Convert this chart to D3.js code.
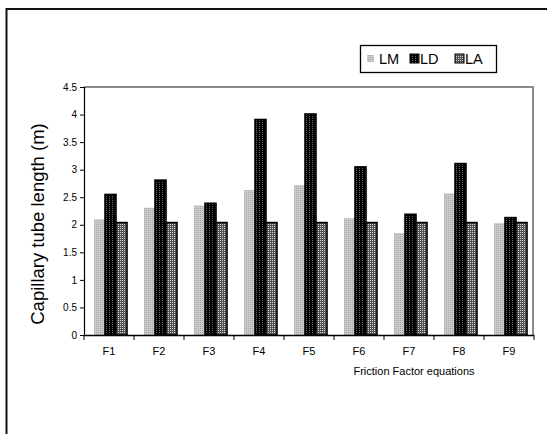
<!DOCTYPE html>
<html>
<head>
<meta charset="utf-8">
<script src="https://cdn.jsdelivr.net/npm/d3@7"></script>
<style>
  html, body { margin: 0; padding: 0; background: #fff; }
  svg { display: block; font-family: "Liberation Sans", Arial, sans-serif; }
</style>
</head>
<body>
<svg id="chart" width="547" height="434"></svg>
<script>
// Friction factor equations on the x axis
const categories = ["F1", "F2", "F3", "F4", "F5", "F6", "F7", "F8", "F9"];
const seriesNames = ["LM", "LD", "LA"];
// Capillary tube length (m) for each equation
const valuesLM = [2.10, 2.31, 2.35, 2.63, 2.72, 2.12, 1.85, 2.57, 2.03];
const valuesLD = [2.55, 2.81, 2.39, 3.91, 4.01, 3.05, 2.19, 3.11, 2.13];
const valuesLA = [2.04, 2.04, 2.04, 2.04, 2.04, 2.04, 2.04, 2.04, 2.04];
const yTicks = [0, 0.5, 1, 1.5, 2, 2.5, 3, 3.5, 4, 4.5];

const seriesValues = { LM: valuesLM, LD: valuesLD, LA: valuesLA };

const svg = d3.select("#chart");
const margin = { left: 84, top: 87, right: 533, bottom: 335 };

// Fill patterns for the three series
const defs = svg.append("defs");
function pattern(id, w, h, bg, dots, dotColor) {
  const p = defs.append("pattern").attr("id", id)
    .attr("patternUnits", "userSpaceOnUse").attr("width", w).attr("height", h);
  p.append("rect").attr("width", w).attr("height", h).attr("fill", bg);
  dots.forEach(([dx, dy]) => p.append("rect").attr("x", dx).attr("y", dy)
    .attr("width", 1).attr("height", 1).attr("fill", dotColor));
}
pattern("patLM", 2, 2, "#cacaca", [[0, 0]], "#a9a9a9");
pattern("patLD", 3, 2, "#000000", [[1, 0]], "#6a6a6a");
pattern("patLA", 2, 2, "#505050", [[0, 0]], "#d8d8d8");
const fills = { LM: "url(#patLM)", LD: "url(#patLD)", LA: "url(#patLA)" };
const strokes = { LM: "none", LD: "#000", LA: "#000" };

// Outer frame (top and left edges visible)
svg.append("path")
  .attr("d", "M6.5,434 L6.5,9 L547,9")
  .attr("fill", "none").attr("stroke", "#111").attr("stroke-width", 2);

const x0 = d3.scaleBand().domain(categories)
  .range([margin.left, margin.right + 1]).paddingInner(0).paddingOuter(0);
const bw = x0.bandwidth();
const x1 = d3.scaleBand().domain(seriesNames)
  .range([bw * 0.2, bw * 0.86]).paddingInner(0);
const y = d3.scaleLinear().domain([0, 4.5]).range([margin.bottom, margin.top]);

// Plot frame: grey top and right edges
svg.append("path")
  .attr("d", `M${margin.left},${margin.top} L${margin.right},${margin.top} L${margin.right},${margin.bottom}`)
  .attr("fill", "none").attr("stroke", "#8a8a8a").attr("stroke-width", 2);

// Bars
const groups = svg.append("g").selectAll("g")
  .data(categories).join("g")
  .attr("transform", d => `translate(${x0(d)},0)`);

seriesNames.forEach(s => {
  groups.append("rect")
    .attr("x", x1(s))
    .attr("y", (d, i) => y(seriesValues[s][i]))
    .attr("width", x1.bandwidth())
    .attr("height", (d, i) => y(0) - y(seriesValues[s][i]))
    .attr("fill", fills[s])
    .attr("stroke", strokes[s])
    .attr("stroke-width", 1.6);
});

// Y axis
const yAxis = d3.axisLeft(y).tickValues(yTicks).tickSize(4).tickPadding(3)
  .tickFormat(d => String(d));
const gy = svg.append("g").attr("transform", `translate(${margin.left},0)`).call(yAxis);
gy.select(".domain").attr("stroke", "#000").attr("stroke-width", 1.2);
gy.selectAll(".tick line").attr("stroke", "#000");
gy.selectAll(".tick text").attr("font-size", 10).attr("fill", "#000")
  .attr("font-family", "Liberation Sans, Arial, sans-serif");

// X axis: labels at category centres, ticks at category boundaries
const xAxis = d3.axisBottom(x0).tickSize(0).tickPadding(12);
const gx = svg.append("g").attr("transform", `translate(0,${margin.bottom})`).call(xAxis);
gx.select(".domain").attr("stroke", "#000").attr("stroke-width", 1.5)
  .attr("d", `M${margin.left},0.5H${margin.right + 1}`);
gx.selectAll(".tick text").attr("font-size", 11).attr("fill", "#000")
  .attr("font-family", "Liberation Sans, Arial, sans-serif");
const boundaries = categories.map(c => x0(c)).concat([x0(categories[categories.length - 1]) + bw]);
gx.append("g").selectAll("line").data(boundaries).join("line")
  .attr("x1", d => d).attr("x2", d => d)
  .attr("y1", 0).attr("y2", 5)
  .attr("stroke", "#000").attr("stroke-width", 1);

// Axis titles
svg.append("text")
  .attr("transform", "translate(44,224) rotate(-90)")
  .attr("text-anchor", "middle")
  .attr("font-size", 18.5)
  .attr("fill", "#000")
  .text("Capillary tube length (m)");

svg.append("text")
  .attr("x", 414).attr("y", 375)
  .attr("text-anchor", "middle")
  .attr("font-size", 11)
  .attr("fill", "#000")
  .text("Friction Factor equations");

// Legend
const legend = svg.append("g");
legend.append("rect")
  .attr("x", 360.5).attr("y", 45.5).attr("width", 136).attr("height", 27)
  .attr("fill", "#fff").attr("stroke", "#000").attr("stroke-width", 1.3);
const legendItems = [
  { name: "LM", sx: 367, tx: 379 },
  { name: "LD", sx: 410, tx: 420 },
  { name: "LA", sx: 455, tx: 465 }
];
legendItems.forEach(it => {
  legend.append("rect")
    .attr("x", it.sx).attr("y", 54).attr("width", it.name === "LM" ? 7 : 9)
    .attr("height", it.name === "LM" ? 7 : 9)
    .attr("transform", it.name === "LM" ? "translate(0,1)" : null)
    .attr("fill", fills[it.name]).attr("stroke", strokes[it.name]).attr("stroke-width", 1);
  legend.append("text")
    .attr("x", it.tx).attr("y", 64)
    .attr("font-size", 14.5).attr("fill", "#000")
    .text(it.name);
});
</script>
</body>
</html>
